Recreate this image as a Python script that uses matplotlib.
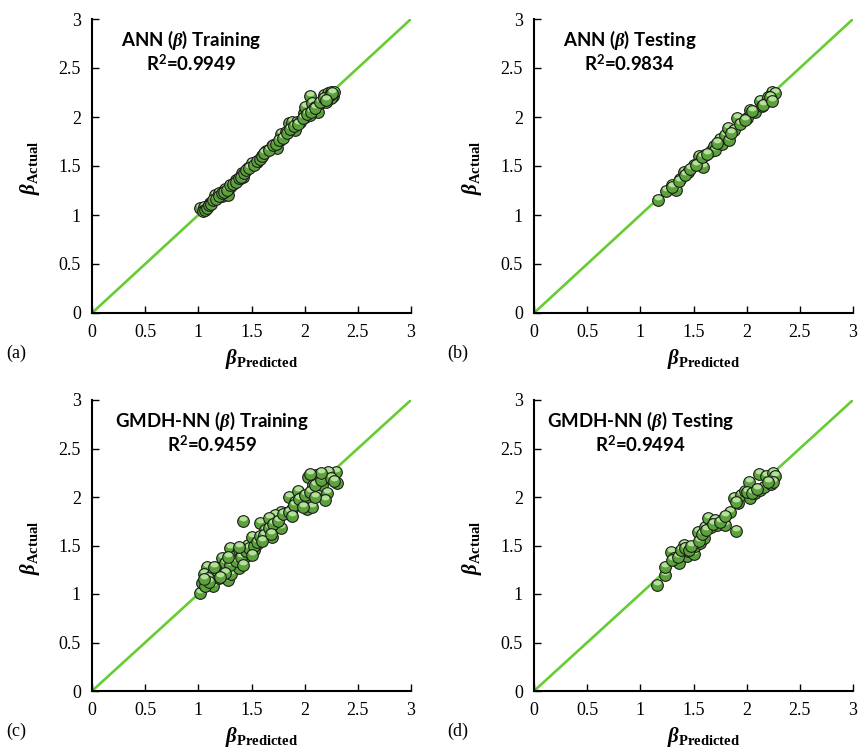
import numpy as np
import matplotlib.pyplot as plt
from matplotlib.path import Path
from matplotlib.ticker import FormatStrFormatter

plt.rcParams['font.family'] = 'Liberation Serif'
plt.rcParams['mathtext.fontset'] = 'custom'
plt.rcParams['mathtext.rm'] = 'Liberation Serif'
plt.rcParams['mathtext.it'] = 'Liberation Serif:italic:bold'
plt.rcParams['mathtext.bf'] = 'Liberation Serif:bold'
plt.rcParams['mathtext.sf'] = 'Lato:bold'

# ANN, training set
ann_train_pred = [1.02, 1.05, 1.11, 1.16, 1.19, 1.22, 1.28, 1.25, 1.30, 1.35, 1.38, 1.41, 1.42,
                  1.47, 1.50, 1.55, 1.60, 1.64, 1.69, 1.74, 1.77, 1.78, 1.82, 1.85, 1.88, 1.93,
                  1.96, 1.91, 1.99, 2.00, 2.05, 2.07, 2.08, 2.13, 2.14, 2.18, 2.21, 2.22, 2.25,
                  2.27, 2.28, 2.25, 2.20, 2.10, 2.00, 2.05,
                  1.04, 1.06, 1.08, 1.10, 1.12, 1.14, 1.17, 1.19, 1.22, 1.24, 1.27, 1.30, 1.33,
                  1.35, 1.38, 1.40, 1.43, 1.45, 1.48, 1.52, 1.55, 1.58, 1.60, 1.62, 1.66, 1.70,
                  1.73, 1.76, 1.80, 1.83, 1.86, 1.90, 1.94, 1.98, 2.02, 2.06, 2.10, 2.14, 2.18,
                  2.24, 2.26, 2.20]
ann_train_act = [1.07, 1.08, 1.12, 1.20, 1.22, 1.19, 1.20, 1.27, 1.29, 1.36, 1.37, 1.43, 1.39,
                 1.48, 1.53, 1.54, 1.60, 1.65, 1.70, 1.68, 1.77, 1.83, 1.85, 1.94, 1.95, 1.95,
                 1.95, 1.87, 2.04, 2.10, 2.21, 2.14, 2.07, 2.05, 2.14, 2.22, 2.17, 2.24, 2.26,
                 2.21, 2.26, 2.19, 2.15, 2.10, 2.00, 2.02,
                 1.04, 1.05, 1.07, 1.10, 1.11, 1.15, 1.16, 1.19, 1.22, 1.23, 1.26, 1.31, 1.32,
                 1.34, 1.38, 1.39, 1.43, 1.46, 1.48, 1.51, 1.55, 1.57, 1.60, 1.63, 1.66, 1.71,
                 1.72, 1.77, 1.79, 1.84, 1.88, 1.91, 1.93, 1.99, 2.03, 2.05, 2.09, 2.15, 2.19,
                 2.22, 2.24, 2.17]

# ANN, testing set
ann_test_pred = [1.17, 1.24, 1.30, 1.34, 1.37, 1.41, 1.45, 1.50, 1.55, 1.56, 1.59, 1.61, 1.66,
                 1.69, 1.70, 1.77, 1.75, 1.80, 1.83, 1.82, 1.88, 1.91, 1.94, 2.00, 2.03, 2.08,
                 2.13, 2.14, 2.19, 2.24, 2.27, 2.20, 2.15,
                 1.30, 1.36, 1.42, 1.47, 1.52, 1.58, 1.63, 1.72, 1.85, 1.98, 2.05, 2.22, 2.24]
ann_test_act = [1.15, 1.24, 1.31, 1.26, 1.37, 1.44, 1.44, 1.51, 1.60, 1.54, 1.49, 1.61, 1.65,
                1.70, 1.66, 1.72, 1.78, 1.82, 1.77, 1.89, 1.87, 1.99, 1.93, 1.99, 2.07, 2.05,
                2.16, 2.11, 2.16, 2.26, 2.25, 2.20, 2.12,
                1.29, 1.35, 1.41, 1.47, 1.51, 1.59, 1.62, 1.73, 1.84, 1.97, 2.06, 2.20, 2.16]

# GMDH-NN, training set
gmdh_train_pred = [1.02, 1.03, 1.08, 1.05, 1.14, 1.13, 1.19, 1.22, 1.25, 1.28, 1.31, 1.22, 1.30,
                   1.35, 1.38, 1.39, 1.42, 1.58, 1.47, 1.45, 1.52, 1.53, 1.60, 1.64, 1.69, 1.71,
                   1.75, 1.78, 1.82, 1.85, 1.88, 1.94, 1.97, 2.02, 2.03, 2.07, 2.03, 2.08, 2.11,
                   2.13, 2.16, 2.21, 2.19, 2.24, 2.27, 2.30, 2.29, 2.19, 2.07, 1.91, 1.78, 1.72,
                   1.66, 1.63, 1.55, 1.50, 1.41, 1.35, 1.38, 1.25, 1.17, 1.09, 1.06,
                   1.30, 1.35, 1.40, 1.45, 1.48, 1.52, 1.55, 1.58, 1.62, 1.66, 1.70, 1.75, 1.80,
                   1.85, 1.90, 1.95, 2.00, 2.05, 2.10, 2.15, 2.22, 1.25, 1.20, 1.10, 1.05, 1.15,
                   1.28, 1.38, 1.42, 1.50, 1.60, 1.68, 1.88, 1.98, 2.10, 2.25, 2.28, 2.15, 2.05]
gmdh_train_act = [1.01, 1.11, 1.28, 1.21, 1.08, 1.20, 1.16, 1.25, 1.18, 1.14, 1.21, 1.37, 1.47,
                  1.40, 1.45, 1.33, 1.75, 1.73, 1.51, 1.39, 1.45, 1.56, 1.59, 1.64, 1.59, 1.69,
                  1.78, 1.68, 1.83, 2.00, 1.88, 2.06, 1.99, 1.88, 2.00, 2.07, 2.21, 2.12, 2.23,
                  2.04, 2.12, 2.04, 2.21, 2.24, 2.19, 2.14, 2.26, 1.97, 1.90, 1.95, 1.85, 1.81,
                  1.78, 1.66, 1.52, 1.59, 1.40, 1.32, 1.27, 1.32, 1.25, 1.16, 1.08,
                  1.30, 1.34, 1.38, 1.44, 1.47, 1.50, 1.54, 1.60, 1.61, 1.68, 1.72, 1.75, 1.82,
                  1.85, 1.92, 1.98, 2.02, 2.05, 2.12, 2.18, 2.26, 1.22, 1.18, 1.12, 1.15, 1.28,
                  1.38, 1.48, 1.30, 1.40, 1.55, 1.62, 1.80, 1.90, 2.00, 2.20, 2.17, 2.25, 2.24]

# GMDH-NN, testing set
gmdh_test_pred = [1.16, 1.23, 1.23, 1.29, 1.32, 1.36, 1.37, 1.41, 1.44, 1.45, 1.50, 1.51, 1.54,
                  1.56, 1.60, 1.61, 1.64, 1.66, 1.70, 1.72, 1.78, 1.80, 1.84, 1.90, 1.88, 1.92,
                  1.95, 1.98, 2.02, 2.03, 2.08, 2.12, 2.13, 2.16, 2.18, 2.23, 2.25, 2.27, 2.25,
                  1.30, 1.35, 1.38, 1.42, 1.46, 1.48, 1.55, 1.58, 1.62, 1.68, 1.75, 1.80, 1.90,
                  2.00, 2.05, 2.10, 2.20]
gmdh_test_act = [1.09, 1.20, 1.28, 1.43, 1.37, 1.32, 1.40, 1.51, 1.39, 1.44, 1.41, 1.49, 1.64,
                 1.53, 1.58, 1.69, 1.78, 1.69, 1.76, 1.71, 1.76, 1.71, 1.85, 1.65, 1.99, 1.94,
                 2.02, 2.06, 2.15, 1.99, 2.04, 2.24, 2.07, 2.10, 2.22, 2.13, 2.25, 2.22, 2.15,
                 1.35, 1.38, 1.45, 1.47, 1.45, 1.50, 1.55, 1.62, 1.66, 1.72, 1.74, 1.80, 1.95,
                 2.05, 2.04, 2.08, 2.15]

titles = ['ANN ($\\beta$) Training', 'ANN ($\\beta$) Testing',
          'GMDH-NN ($\\beta$) Training', 'GMDH-NN ($\\beta$) Testing']
r2_values = ['0.9949', '0.9834', '0.9459', '0.9494']
tags = ['(a)', '(b)', '(c)', '(d)']

W, H = 858, 756

# lit upper cap drawn over each ball to give it a shaded look
t = np.linspace(0, 2 * np.pi, 60)
cap = Path(np.column_stack([0.33 * np.cos(t), 0.22 + 0.21 * np.sin(t)]))
ball = 8.4


def px(x, y):
    return x / W, 1 - y / H


fig = plt.figure(figsize=(W / 100, H / 100), dpi=100)

# axes boxes in pixels: left, top, right, bottom
boxes = [(92, 19, 411, 313), (534, 19, 853, 313),
         (92, 400, 411, 691), (534, 400, 853, 691)]
data = [(ann_train_pred, ann_train_act), (ann_test_pred, ann_test_act),
        (gmdh_train_pred, gmdh_train_act), (gmdh_test_pred, gmdh_test_act)]
title_x = [0.31, 0.30, 0.376, 0.335]

for i, ((l, tp, r, b), (pred, act)) in enumerate(zip(boxes, data)):
    ax = fig.add_axes([l / W, 1 - b / H, (r - l) / W, (b - tp) / H])
    ax.plot([0, 3], [0, 3], color='#66cc33', lw=1.9, zorder=1)
    for k, (xv, yv) in enumerate(zip(pred, act)):
        ax.plot(xv, yv, 'o', ms=ball, mfc='#5ba23b', mec='#1c1c1c', mew=0.8,
                zorder=2 + 2 * k, clip_on=False)
        ax.plot(xv, yv, marker=cap, ls='none', ms=ball * 0.86, mfc='#b4df9c',
                mec='none', zorder=3 + 2 * k, clip_on=False)

    ax.set_xlim(0, 3)
    ax.set_ylim(0, 3)
    ax.set_xticks(np.arange(0, 3.01, 0.5))
    ax.set_yticks(np.arange(0, 3.01, 0.5))
    ax.xaxis.set_major_formatter(FormatStrFormatter('%g'))
    ax.yaxis.set_major_formatter(FormatStrFormatter('%g'))
    ax.tick_params(direction='in', length=5, width=1, labelsize=13, pad=8)
    for side in ['top', 'right']:
        ax.spines[side].set_visible(False)
    for side in ['left', 'bottom']:
        ax.spines[side].set_linewidth(1.5)

    ax.text(title_x[i], 0.928, titles[i], transform=ax.transAxes, ha='center',
            va='center', fontsize=13.4, family='Lato', weight='bold')
    ax.text(title_x[i], 0.848, 'R$^{\\mathsf{2}}$=' + r2_values[i], transform=ax.transAxes,
            ha='center', va='center', fontsize=13.4, family='Lato', weight='bold')

    xl = l + 170
    fig.text(*px(xl, b + 46), r'$\beta_{\mathbf{Predicted}}$', ha='center',
             va='center', fontsize=15)
    fig.text(*px(l - 62, (tp + b) / 2 + 2), r'$\beta_{\mathbf{Actual}}$', ha='center',
             va='center', fontsize=15, rotation=90)
    fig.text(*px(l - 76, b + 40), tags[i], ha='center', va='center', fontsize=13)

fig.savefig('out.png', dpi=100)
